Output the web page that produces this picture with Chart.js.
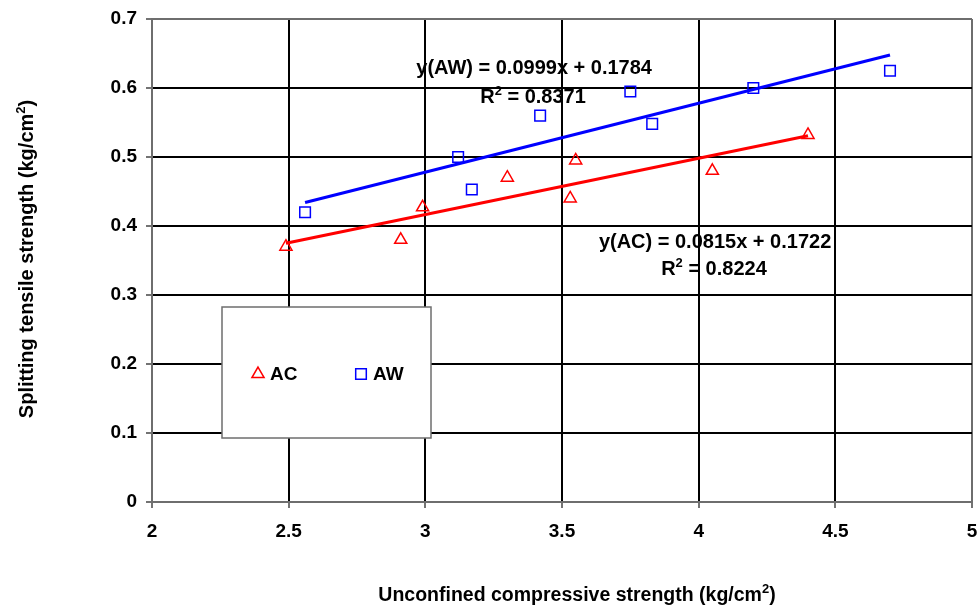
<!DOCTYPE html>
<html>
<head>
<meta charset="utf-8">
<script src="https://cdn.jsdelivr.net/npm/chart.js@4.4.1/dist/chart.umd.min.js"></script>
<style>
  html, body { margin: 0; padding: 0; background: #fff; }
  canvas { display: block; }
</style>
</head>
<body>
<canvas id="chart" width="977" height="607"></canvas>
<script>
// Measured strengths (kg/cm2)
const acX = [2.49, 2.91, 2.99, 3.30, 3.53, 3.55, 4.05, 4.40];
const acY = [0.370, 0.380, 0.427, 0.470, 0.440, 0.495, 0.480, 0.532];
const awX = [2.56, 3.12, 3.17, 3.42, 3.75, 3.83, 4.20, 4.70];
const awY = [0.420, 0.500, 0.453, 0.560, 0.595, 0.548, 0.600, 0.625];

// Linear fits: slope, intercept, R2
const acFit = [0.0815, 0.1722, 0.8224];
const awFit = [0.0999, 0.1784, 0.8371];

const seriesNames = ['AC', 'AW'];
const xTickLabels = ['2', '2.5', '3', '3.5', '4', '4.5', '5'];
const yTickLabels = ['0', '0.1', '0.2', '0.3', '0.4', '0.5', '0.6', '0.7'];
const xTitle = 'Unconfined compressive strength (kg/cm';
const yTitle = 'Splitting tensile strength (kg/cm';

const FONT = '"Liberation Sans", Arial, Helvetica, sans-serif';
const TEXT_SIZE = 20;
const TICK_SIZE = 19;
const SUP_SIZE = 13;
const RED = '#ff0000';
const BLUE = '#0000ff';
const EDGE = '#6e6e6e';

const points = (xs, ys) => xs.map((x, i) => ({ x: x, y: ys[i] }));
const fitLine = (xs, fit) => {
  const lo = Math.min(...xs), hi = Math.max(...xs);
  return [{ x: lo, y: fit[0] * lo + fit[1] }, { x: hi, y: fit[0] * hi + fit[1] }];
};

// Draws a run of [text, isSuperscript] pieces centred on cx, baseline y
function drawRich(ctx, parts, cx, y, size) {
  const big = 'bold ' + (size || TEXT_SIZE) + 'px ' + FONT;
  const small = 'bold ' + SUP_SIZE + 'px ' + FONT;
  let total = 0;
  parts.forEach(p => { ctx.font = p[1] ? small : big; total += ctx.measureText(p[0]).width; });
  let x = cx - total / 2;
  ctx.textAlign = 'left';
  ctx.textBaseline = 'alphabetic';
  parts.forEach(p => {
    ctx.font = p[1] ? small : big;
    ctx.fillText(p[0], x, p[1] ? y - 8 : y);
    x += ctx.measureText(p[0]).width;
  });
}

const fitLabel = (name, fit) => [[
  ['y(' + name + ') = ' + fit[0].toFixed(4) + 'x + ' + fit[1].toFixed(4), false]
], [
  ['R', false], ['2', true], [' = ' + fit[2].toFixed(4), false]
]];

const annotations = {
  id: 'annotations',
  afterDatasetsDraw(chart) {
    const ctx = chart.ctx;
    const xs = chart.scales.x, ys = chart.scales.y;
    ctx.save();
    ctx.fillStyle = '#000';

    // regression equations
    const aw = fitLabel(seriesNames[1], awFit);
    drawRich(ctx, aw[0], xs.getPixelForValue(3.398), ys.getPixelForValue(0.6203));
    drawRich(ctx, aw[1], xs.getPixelForValue(3.394), ys.getPixelForValue(0.5778));
    const ac = fitLabel(seriesNames[0], acFit);
    drawRich(ctx, ac[0], xs.getPixelForValue(4.060), ys.getPixelForValue(0.3677));
    drawRich(ctx, ac[1], xs.getPixelForValue(4.056), ys.getPixelForValue(0.3290));

    // legend box inside the plot
    const a = chart.chartArea;
    const bx = a.left + 70, by = a.top + 288, bw = 209, bh = 131;
    ctx.fillStyle = '#fff';
    ctx.fillRect(bx, by, bw, bh);
    ctx.strokeStyle = EDGE;
    ctx.lineWidth = 1.5;
    ctx.strokeRect(bx, by, bw, bh);
    const my = by + 67;
    const items = [
      { name: seriesNames[0], style: 'triangle', color: RED, mx: bx + 36 },
      { name: seriesNames[1], style: 'rect', color: BLUE, mx: bx + 139 }
    ];
    items.forEach(it => {
      ctx.strokeStyle = it.color;
      ctx.fillStyle = 'rgba(0,0,0,0)';
      ctx.lineWidth = 1.5;
      Chart.helpers.drawPoint(ctx, { pointStyle: it.style, radius: it.style === 'rect' ? 7.5 : 7, rotation: 0, borderWidth: 1.5 }, it.mx, my);
      ctx.fillStyle = '#000';
      ctx.font = 'bold ' + TICK_SIZE + 'px ' + FONT;
      ctx.textAlign = 'left';
      ctx.textBaseline = 'middle';
      ctx.fillText(it.name, it.mx + 12, my + 1);
    });

    // axis titles
    ctx.fillStyle = '#000';
    drawRich(ctx, [[xTitle, false], ['2', true], [')', false]], 577, 601, 19.5);
    ctx.translate(33, 259);
    ctx.rotate(-Math.PI / 2);
    drawRich(ctx, [[yTitle, false], ['2', true], [')', false]], 0, 0);
    ctx.restore();
  }
};

const gridColor = (lo, hi) => c => {
  const v = c.tick ? c.tick.value : null;
  return (v !== null && (Math.abs(v - lo) < 1e-9 || Math.abs(v - hi) < 1e-9)) ? EDGE : '#000';
};

// axes keep a fixed thickness and add no label overhang to the layout
const fixAxis = (prop, size) => s => {
  s[prop] = size;
  s.paddingLeft = s.paddingRight = s.paddingTop = s.paddingBottom = 0;
};

new Chart(document.getElementById('chart'), {
  type: 'scatter',
  data: {
    datasets: [
      {
        label: seriesNames[0], data: points(acX, acY), order: 1,
        pointStyle: 'triangle', pointRadius: 7, borderColor: RED, backgroundColor: 'rgba(0,0,0,0)',
        pointBorderWidth: 1.5, showLine: false
      },
      {
        label: seriesNames[1], data: points(awX, awY), order: 1,
        pointStyle: 'rect', pointRadius: 7.5, borderColor: BLUE, backgroundColor: 'rgba(0,0,0,0)',
        pointBorderWidth: 1.5, showLine: false
      },
      {
        label: seriesNames[0] + ' fit', data: fitLine(acX, acFit), order: 2,
        showLine: true, pointRadius: 0, borderColor: RED, borderWidth: 3
      },
      {
        label: seriesNames[1] + ' fit', data: fitLine(awX, awFit), order: 2,
        showLine: true, pointRadius: 0, borderColor: BLUE, borderWidth: 3
      }
    ]
  },
  options: {
    responsive: false,
    animation: false,
    events: [],
    layout: { autoPadding: false, padding: { top: 19, right: 5, left: 0, bottom: 0 } },
    plugins: { legend: { display: false }, tooltip: { enabled: false } },
    scales: {
      x: {
        type: 'linear', min: 2, max: 5,
        afterBuildTicks: s => { s.ticks = xTickLabels.map(t => ({ value: parseFloat(t) })); },
        afterFit: fixAxis('height', 105),
        ticks: {
          callback: (v, i) => xTickLabels[i],
          font: { family: FONT, size: TICK_SIZE, weight: 'bold' },
          color: '#000', padding: 12, maxRotation: 0, autoSkip: false
        },
        grid: { color: gridColor(2, 5), lineWidth: 2, tickLength: 6, tickColor: '#444', tickWidth: 1.5 },
        border: { display: true, color: EDGE, width: 2 },
        title: { display: false }
      },
      y: {
        type: 'linear', min: 0, max: 0.7,
        afterBuildTicks: s => { s.ticks = yTickLabels.map(t => ({ value: parseFloat(t) })); },
        afterFit: fixAxis('width', 152),
        ticks: {
          callback: (v, i) => yTickLabels[i],
          font: { family: FONT, size: TICK_SIZE, weight: 'bold' },
          color: '#000', padding: 9, autoSkip: false
        },
        grid: { color: gridColor(0, 0.7), lineWidth: 2, tickLength: 6, tickColor: '#444', tickWidth: 1.5 },
        border: { display: true, color: EDGE, width: 2 },
        title: { display: false }
      }
    }
  },
  plugins: [annotations]
});
</script>
</body>
</html>
